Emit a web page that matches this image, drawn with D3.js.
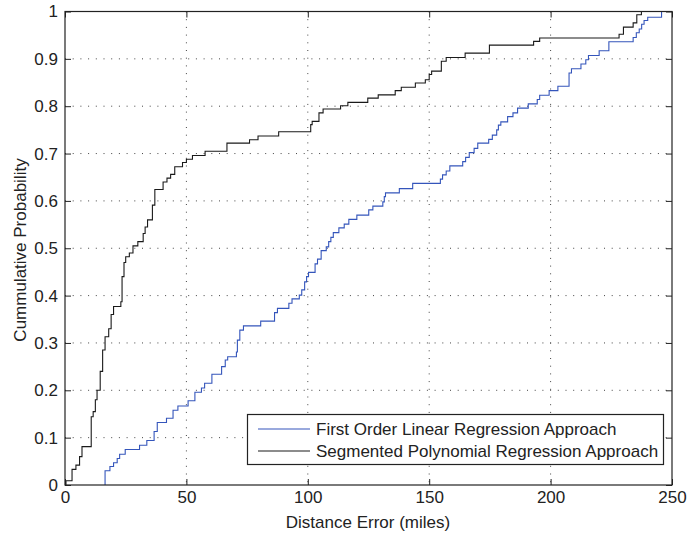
<!DOCTYPE html>
<html lang="en">
<head>
<meta charset="UTF-8"/>
<title>CDF of distance error</title>
<script src="https://d3js.org/d3.v7.min.js"></script>
<style>
	body { margin: 0; background: #fff; }
	svg text { font-family: "Liberation Sans", Arial, sans-serif; fill: #222; }
</style>
</head>
<body>
<script>
	// step points: distance where the CDF jumps, and the probability after the jump
	var linearX = [16.3, 16.5, 18.5, 20, 21.5, 22.5, 24.8, 30.7, 33.7, 36.7, 38, 41.8, 44.5, 46.5, 50.7, 53.5, 56.2, 57.5, 60.5, 64.5,
		66, 67, 70.6, 71, 72, 73.5, 80.6, 86.3, 87.5, 92.2, 93.5, 96.5, 97.5, 98.7, 99.5, 100.3, 103, 104, 105.5, 107.6,
		108.6, 109.5, 110.5, 112.8, 115, 116.9, 120.2, 125.1, 126.8, 130.9, 131.5, 132, 137.7, 143.2, 154.6, 155.5, 157, 158.5, 163.8, 165,
		166.5, 168.5, 170, 174.5, 176, 177.8, 178.5, 179.5, 182.3, 184.5, 186.4, 190.8, 194.5, 195.5, 199.4, 203, 207.6, 208.6, 212.5, 214.5,
		215.6, 220, 224, 234, 235.3, 236.5, 237.5, 238.5, 240, 245.7, 250];
	var linearY = [0, 0.03, 0.039, 0.047, 0.056, 0.065, 0.075, 0.084, 0.094, 0.113, 0.132, 0.141, 0.158, 0.167, 0.178, 0.196, 0.205, 0.215, 0.234, 0.25,
		0.264, 0.271, 0.281, 0.306, 0.327, 0.336, 0.346, 0.364, 0.373, 0.384, 0.393, 0.401, 0.412, 0.429, 0.44, 0.449, 0.467, 0.477, 0.495, 0.503,
		0.514, 0.523, 0.533, 0.543, 0.551, 0.561, 0.57, 0.581, 0.589, 0.598, 0.609, 0.617, 0.626, 0.637, 0.646, 0.655, 0.663, 0.674, 0.683, 0.692,
		0.702, 0.711, 0.722, 0.73, 0.739, 0.75, 0.76, 0.767, 0.778, 0.786, 0.796, 0.805, 0.814, 0.823, 0.833, 0.842, 0.87, 0.879, 0.889, 0.898,
		0.907, 0.917, 0.936, 0.945, 0.955, 0.963, 0.973, 0.981, 0.988, 1.0, 1.0];

	var polyX = [0, 0.4, 2.9, 4.5, 6, 7, 10.8, 11.6, 12.5, 13.2, 14.5, 15.5, 16.5, 18, 19, 20, 23, 23.5, 24.3, 25,
		26.5, 28, 30, 32.2, 33, 34, 36, 37, 40.4, 42, 43.5, 45.2, 48.4, 50, 52.5, 57.7, 66.7, 76, 79.5, 88,
		101.2, 101.8, 104.6, 106.3, 113.5, 116.5, 124.7, 129, 136, 138.5, 144.3, 148.4, 150, 151, 155, 157, 164.8, 174.8, 193, 195.5,
		228.2, 230, 234, 235.5, 237.4, 250];
	var polyY = [0, 0.009, 0.033, 0.042, 0.06, 0.081, 0.144, 0.155, 0.18, 0.2, 0.24, 0.285, 0.313, 0.33, 0.36, 0.377, 0.387, 0.44, 0.47, 0.482,
		0.49, 0.505, 0.514, 0.531, 0.545, 0.56, 0.591, 0.624, 0.64, 0.648, 0.656, 0.672, 0.681, 0.688, 0.696, 0.705, 0.722, 0.729, 0.737, 0.746,
		0.761, 0.768, 0.786, 0.794, 0.801, 0.808, 0.817, 0.824, 0.833, 0.84, 0.849, 0.856, 0.867, 0.874, 0.895, 0.903, 0.912, 0.929, 0.937, 0.944,
		0.952, 0.967, 0.976, 0.993, 1.0, 1.0];

	var xTicks = [0, 50, 100, 150, 200, 250];
	var yTicks = [0, 0.1, 0.2, 0.3, 0.4, 0.5, 0.6, 0.7, 0.8, 0.9, 1];
	var seriesNames = ["First Order Linear Regression Approach", "Segmented Polynomial Regression Approach"];
	var seriesColors = ["#3455bb", "#1a1a1a"];

	var w = 689, h = 535;
	var plotLeft = 65, plotRight = 672, plotTop = 11.5, plotBottom = 485;
	var fontSize = 17;

	var xScale = d3.scaleLinear().domain([0, 250]).range([plotLeft, plotRight]);
	var yScale = d3.scaleLinear().domain([0, 1]).range([plotBottom, plotTop]);

	var svg = d3.select("body").append("svg")
		.attr("width", w)
		.attr("height", h);

	// dotted grid
	svg.append("g").selectAll("line")
		.data(xTicks.slice(1, -1))
		.enter().append("line")
		.attr("x1", function(d) { return xScale(d); })
		.attr("x2", function(d) { return xScale(d); })
		.attr("y1", plotTop).attr("y2", plotBottom)
		.attr("stroke", "#444").attr("stroke-width", 1)
		.attr("stroke-dasharray", "1,6.7");
	svg.append("g").selectAll("line")
		.data(yTicks.slice(1, -1))
		.enter().append("line")
		.attr("y1", function(d) { return yScale(d); })
		.attr("y2", function(d) { return yScale(d); })
		.attr("x1", plotLeft).attr("x2", plotRight)
		.attr("stroke", "#444").attr("stroke-width", 1)
		.attr("stroke-dasharray", "1,6.7");

	// axes with ticks pointing inwards, like matlab
	var xAxis = d3.axisBottom(xScale).tickValues(xTicks).tickSize(-6).tickPadding(6);
	var yAxis = d3.axisLeft(yScale).tickValues(yTicks).tickSize(-6).tickPadding(7).tickFormat(d3.format("~g"));

	var gx = svg.append("g").attr("transform", "translate(0," + plotBottom + ")").call(xAxis);
	var gy = svg.append("g").attr("transform", "translate(" + plotLeft + ",0)").call(yAxis);
	svg.append("g").attr("transform", "translate(0," + plotTop + ")")
		.call(d3.axisTop(xScale).tickValues(xTicks).tickSize(-6).tickFormat(""));
	svg.append("g").attr("transform", "translate(" + plotRight + ",0)")
		.call(d3.axisRight(yScale).tickValues(yTicks).tickSize(-6).tickFormat(""));

	svg.selectAll(".domain").remove();
	svg.selectAll(".tick line").attr("stroke", "#222");
	[gx, gy].forEach(function(g) {
		g.selectAll("text").attr("font-size", fontSize).attr("font-family", "Liberation Sans, Arial, sans-serif").attr("fill", "#222");
	});

	// the two CDF curves
	var line = d3.line()
		.x(function(d) { return xScale(d[0]); })
		.y(function(d) { return yScale(d[1]); })
		.curve(d3.curveStepAfter);

	var linearPts = linearX.map(function(x, i) { return [x, linearY[i]]; });
	var polyPts = polyX.map(function(x, i) { return [x, polyY[i]]; });

	svg.append("defs").append("clipPath").attr("id", "clip")
		.append("rect").attr("x", plotLeft).attr("y", plotTop)
		.attr("width", plotRight - plotLeft).attr("height", plotBottom - plotTop);

	svg.append("path").datum(linearPts)
		.attr("d", line).attr("fill", "none")
		.attr("stroke", seriesColors[0]).attr("stroke-width", 1.1)
		.attr("clip-path", "url(#clip)");
	svg.append("path").datum(polyPts)
		.attr("d", line).attr("fill", "none")
		.attr("stroke", seriesColors[1]).attr("stroke-width", 1.1)
		.attr("clip-path", "url(#clip)");

	// box around the plot
	svg.append("rect")
		.attr("x", plotLeft).attr("y", plotTop)
		.attr("width", plotRight - plotLeft).attr("height", plotBottom - plotTop)
		.attr("fill", "none").attr("stroke", "#222").attr("stroke-width", 1.2);

	// axis labels
	svg.append("text")
		.attr("text-anchor", "middle")
		.attr("x", 368)
		.attr("y", 528)
		.attr("font-size", fontSize)
		.text("Distance Error (miles)");

	svg.append("text")
		.attr("text-anchor", "middle")
		.attr("transform", "rotate(-90)")
		.attr("x", -250)
		.attr("y", 26)
		.attr("font-size", fontSize)
		.text("Cummulative Probability");

	// legend
	var legend = svg.append("g");
	legend.append("rect")
		.attr("x", 247.5).attr("y", 414.5)
		.attr("width", 416).attr("height", 50)
		.attr("fill", "#fff").attr("stroke", "#222").attr("stroke-width", 1.2);

	seriesNames.forEach(function(name, i) {
		var yy = 429 + i * 22;
		legend.append("line")
			.attr("x1", 258).attr("x2", 310)
			.attr("y1", yy).attr("y2", yy)
			.attr("stroke", seriesColors[i]).attr("stroke-width", 1.1);
		legend.append("text")
			.attr("x", 316).attr("y", yy + 6)
			.attr("font-size", fontSize)
			.text(name);
	});
</script>
</body>
</html>
